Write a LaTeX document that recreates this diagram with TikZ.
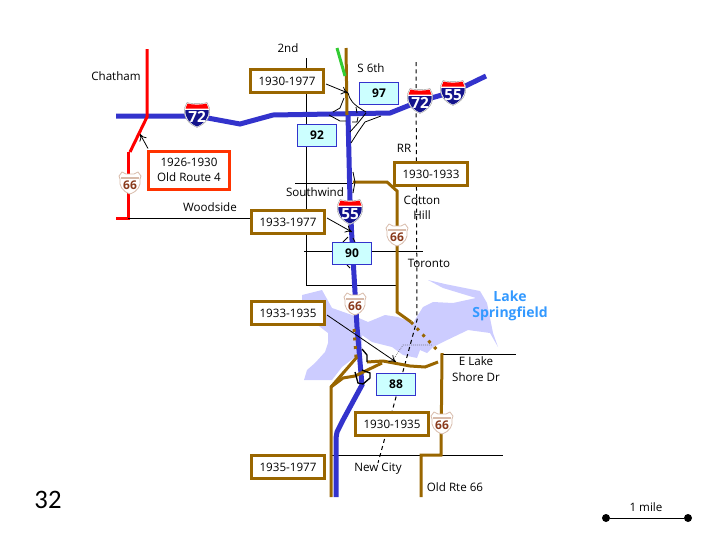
\documentclass[tikz,border=0pt]{standalone}
\usepackage{fontspec}
\setmainfont{Open Sans}
\newfontfamily\pagefont{Carlito}
\usetikzlibrary{positioning,arrows.meta}

\definecolor{roadblue}{HTML}{3333CC}
\definecolor{roadbrown}{HTML}{996600}
\definecolor{lakeblue}{HTML}{CCCCFF}
\definecolor{signcyan}{HTML}{CCFFFF}
\definecolor{shieldtan}{HTML}{D8BBAA}
\definecolor{shieldrust}{HTML}{8A3A1C}
\definecolor{shielddeep}{HTML}{14148C}
\definecolor{laketext}{HTML}{3399FF}
\definecolor{newroad}{HTML}{33CC33}
\definecolor{oldbox}{HTML}{FF3300}

% interstate shield: name, position, number
\newcommand{\interstate}[3]{
    \begin{scope}[shift={#2}]
        \fill[white, draw=black!40, line width=0.3pt] (-10,-12.5) .. controls (-5,-11) and (5,-11) .. (10,-12.5) -- (12.5,-7) .. controls (14,3) and (8,9) .. (0,12.5) .. controls (-8,9) and (-14,3) .. (-12.5,-7) -- cycle;
        \fill[red] (-9.5,-11.5) .. controls (-5,-10) and (5,-10) .. (9.5,-11.5) -- (11.5,-6.5) -- (-11.5,-6.5) -- cycle;
        \fill[shielddeep] (-11.5,-5) -- (11.5,-5) .. controls (12.5,3) and (7,8.5) .. (0,11.5) .. controls (-7,8.5) and (-12.5,3) .. (-11.5,-5) -- cycle;
        \node[interstatetext] (#1) at (0,2) {#3};
    \end{scope}
}
% old route shield: name, position
\newcommand{\routesign}[2]{
    \begin{scope}[shift={#2}]
        \fill[white, draw=shieldtan, line width=0.6pt] (-8,-11) -- (-4,-9) -- (4,-9) -- (8,-11) -- (11,-7) -- (10,-4) .. controls (11,3) and (8,8) .. (0,11) .. controls (-8,8) and (-11,3) .. (-10,-4) -- (-11,-7) -- cycle;
        \draw[shieldtan, line width=0.8pt] (-9,-5) -- (9,-5);
        \node[routetext] (#1) at (0,2) {66};
    \end{scope}
}

\begin{document}
\begin{tikzpicture}[
    x=0.75pt,
    y=-0.75pt,
    yearbox/.style={
        rectangle,
        draw=roadbrown,
        fill=white,
        line width=2.25pt,
        minimum width=73*0.75pt,
        minimum height=23*0.75pt,
        inner sep=0pt,
        font=\fontsize{8.7pt}{11pt}\selectfont,
        align=center
    },
    milebox/.style={
        rectangle,
        draw=roadblue,
        fill=signcyan,
        line width=0.75pt,
        minimum width=39*0.75pt,
        minimum height=22*0.75pt,
        inner sep=0pt,
        font=\fontsize{9pt}{11pt}\selectfont\bfseries
    },
    maplabel/.style={
        inner sep=0pt,
        font=\fontsize{8.7pt}{11.5pt}\selectfont,
        align=center
    },
    interstatetext/.style={
        inner sep=0pt,
        text=white,
        font=\fontsize{11.5pt}{12pt}\selectfont\bfseries
    },
    routetext/.style={
        inner sep=0pt,
        text=shieldrust,
        font=\fontsize{9pt}{9pt}\selectfont\bfseries
    },
    thinroad/.style={black, line width=0.75pt},
    ramp/.style={black, line width=0.6pt},
    blueroad/.style={roadblue, line width=3.75pt},
    brownroad/.style={roadbrown, line width=2.25pt},
    brownold/.style={roadbrown, line width=2.25pt, dash pattern=on 2.2pt off 4.2pt},
    redroad/.style={red, line width=2.25pt},
    pointer/.style={black, line width=0.6pt, -{To[length=5pt,width=6pt]}},
    enddot/.style={circle, fill=black, inner sep=0pt, minimum size=6pt}
]
    \useasboundingbox (0,0) rectangle (720,540);

    % Lake
    \fill[lakeblue] (302,295) -- (322,290) -- (332,308) -- (352,315) -- (368,322) -- (385,315) -- (398,317) -- (413,323)
        -- (423,307) -- (433,302) -- (453,303) -- (476,298) -- (443,288) -- (428,280) -- (445,284) -- (480,291) -- (487,303)
        -- (493,333) -- (498,347) -- (490,333) -- (468,330) -- (443,342) -- (433,347) -- (427,353) -- (420,350) -- (417,358)
        -- (403,355) -- (392,347) -- (372,342) -- (362,335) -- (362,357) -- (355,357) -- (342,367) -- (332,380) -- (304,380)
        -- (307,370) -- (315,363) -- (325,352) -- (328,343) -- (328,333) -- (315,323) -- (302,305) -- cycle;

    % Thin roads and railroad
    \draw [thinroad] (306,58) -- (306,285) -- (397,285);
    \draw [thinroad] (304,251) -- (423,251);
    \draw [thinroad] (295,183) -- (353,183);
    \draw [thinroad] (442,354) -- (516,354);
    \draw [thinroad] (331,455) -- (503,455);
    \draw [black, line width=0.75pt, dash pattern=on 3pt off 2.5pt] (416,62) -- (417,320) -- (378,463);
    \draw [black!70, line width=0.5pt, densely dotted] (393,360) -- (403,345) -- (432,345);

    % Roads
    \draw [blueroad] (116,116) -- (197,116) -- (240,124) -- (273,115) -- (390,113) -- (420,101) -- (453,92) -- (486,76);
    \draw [blueroad] (348,115) -- (350,200) -- (352,240) -- (357,327) -- (362,385) -- (343,420) -- (337,432) -- (336,438) -- (336,497);
    \draw [brownroad] (346,48) -- (347,115);
    \draw [newroad, line width=2.25pt] (337,48) -- (345,76);
    \draw [brownroad] (353,182) -- (387,182) -- (397,191) -- (397,312) -- (411,322);
    \draw [brownold] (411,322) -- (438,351);
    \draw [brownold] (354,329) -- (356,357);
    \draw [brownroad] (442,353) -- (441,455) -- (421,455) -- (421,497);
    \draw [brownroad] (367,362) -- (383,361) -- (410,366) -- (425,367) -- (438,362);
    \draw [brownroad] (357,357) -- (331,387) -- (331,497);
    \draw [brownroad] (331,387) -- (343,378) -- (355,376) -- (382,363);
    \draw [redroad] (147,49) -- (147,117) -- (130,152);
    \draw [redroad] (128,152) -- (128,218) -- (116,218);

    % Interchange ramps
    \draw [ramp] (348,93) .. controls (350,100) and (352,104) .. (366,112);
    \draw [ramp] (344,98) -- (340,108) -- (333,112);
    \draw [ramp] (356,107) -- (357,113);
    \draw [ramp] (329,115) -- (340,121) -- (346,121);
    \draw [ramp] (352,122) -- (357,122) -- (358,117);
    \draw [ramp] (381,116) -- (365,122) -- (358,132) -- (351,143);
    \draw [ramp] (366,113) -- (358,123) -- (350,132);
    \draw [ramp] (353,172) -- (355,182) -- (353,193);
    \draw [ramp] (343,242) -- (348,237);
    \draw [ramp] (353,238) -- (355,242);
    \draw [ramp] (347,265) -- (350,268);
    \draw [black, line width=1pt] (362,349) -- (367,355) -- (367,362);
    \draw [black, line width=1pt] (355,372) -- (358,383) -- (363,384) -- (370,378) -- (370,373) -- (362,370);

    % Boxes
    \node [yearbox] (y3077) at (287,81) {1930-1977};
    \node [yearbox] (y3377) at (288,222) {1933-1977};
    \node [yearbox] (y3033) at (431,174) {1930-1933};
    \node [yearbox] (y3335) at (288,313) {1933-1935};
    \node [yearbox] (y3035) at (392,424) {1930-1935};
    \node [yearbox] (y3577) at (288,467) {1935-1977};
    \node [yearbox, draw=oldbox, minimum width=81*0.75pt, minimum height=38*0.75pt] (y2630) at (189,170) {1926-1930\\Old Route 4};
    \node [milebox] (m97) at (379,93) {97};
    \node [milebox] (m92) at (317,135) {92};
    \node [milebox] (m90) at (352,253) {90};
    \node [milebox] (m88) at (396,384) {88};

    % Free ends
    \coordinate (woodsideEnd) at (128,218);
    \coordinate (ramp72) at (348,93);
    \coordinate (ramp55) at (352,232);
    \coordinate (rampLake) at (396,362);
    \coordinate (rampRed) at (140,134);

    % Pointers
    \draw [thinroad] (woodsideEnd) -- (y3377.west |- woodsideEnd);
    \draw [pointer] (y3077.east) ++(1,3) -- (ramp72);
    \draw [pointer] (y3377.east) ++(1,-4) -- (ramp55);
    \draw [pointer] (y3335.east) ++(1,2) -- (rampLake);
    \draw [pointer] (y2630.north west) ++(1,-1) -- (rampRed);

    % Shields
    \interstate{i72a}{(197,115)}{72}
    \interstate{i72b}{(420,101)}{72}
    \interstate{i55a}{(453,93)}{55}
    \interstate{i55b}{(350,212)}{55}
    \routesign{r66a}{(130,183)}
    \routesign{r66b}{(397,235)}
    \routesign{r66c}{(355,304)}
    \routesign{r66d}{(442,423)}

    % Labels
    \node [maplabel] (chatham) at (116,76) {Chatham};
    \node [maplabel] (second) at (288,48) {2nd};
    \node [maplabel] (sixth) at (371,68) {S 6th};
    \node [maplabel] (rr) at (404,148) {RR};
    \node [maplabel] (southwind) at (315,192) {Southwind};
    \node [maplabel] (woodside) at (210,207) {Woodside};
    \node [maplabel] (cotton) at (422,208) {Cotton\\Hill};
    \node [maplabel] (toronto) at (429,263) {Toronto};
    \node [maplabel] (elake) at (476,369) {E Lake\\Shore Dr};
    \node [maplabel] (newcity) at (378,469) {New City};
    \node [maplabel] (oldrte) at (455,487) {Old Rte 66};
    \node [maplabel, text=laketext, font=\fontsize{10.5pt}{12.5pt}\selectfont\bfseries] (lake) at (510,306) {Lake\\Springfield};
    \node [maplabel] (mile) at (646,507) {1 mile};
    \node [inner sep=0pt, font=\pagefont\fontsize{20pt}{22pt}\selectfont] (page) at (48,500) {32};

    % Scale bar
    \node [enddot] (mileL) at (606,518) {};
    \node [enddot] (mileR) at (688,518) {};
    \draw [thinroad] (mileL) -- (mileR);
\end{tikzpicture}
\end{document}
